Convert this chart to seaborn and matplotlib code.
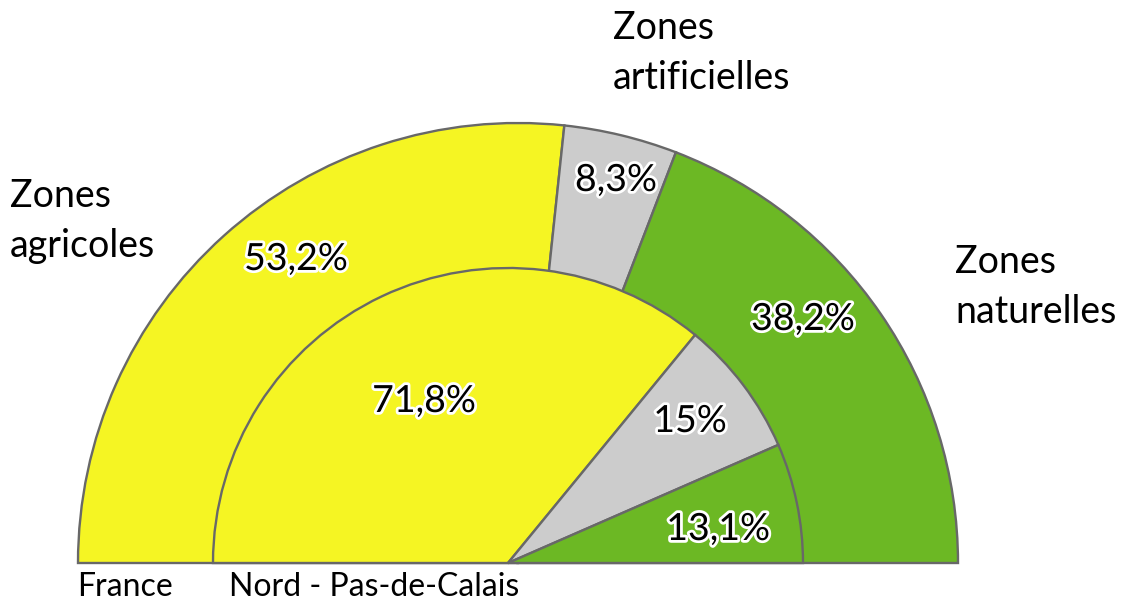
import matplotlib.pyplot as plt
import matplotlib.patheffects as pe
import seaborn as sns

W, H = 1122, 603

# occupation des sols (%)
categories = ['Zones agricoles', 'Zones artificielles', 'Zones naturelles']
france = [53.2, 8.3, 38.2]
npdc = [71.8, 15.0, 13.1]
france_labels = ['53,2%', '8,3%', '38,2%']
npdc_labels = ['71,8%', '15%', '13,1%']
couleurs = ['#F5F523', '#CCCCCC', '#6CB824']

sns.set_theme(style='white')
plt.rcParams['font.family'] = ['Lato', 'DejaVu Sans']

fig = plt.figure(figsize=(W / 100, H / 100), dpi=100)
ax = fig.add_axes([0, 0, 1, 1])

def py(y):
    # pixel (depuis le haut) -> coordonnee data
    return H - y

edge = dict(edgecolor='#686868', linewidth=1.7)

# demi-anneau exterieur : France (une part invisible pour faire le demi-cercle)
w_out, _ = ax.pie(france + [sum(france)], colors=couleurs + ['none'],
                  startangle=180, counterclock=False, radius=440,
                  center=(518, py(563)), wedgeprops=edge, frame=True)
w_out[-1].set_visible(False)

# demi-disque interieur : Nord - Pas-de-Calais
w_in, _ = ax.pie(npdc + [sum(npdc)], colors=couleurs + ['none'],
                 startangle=180, counterclock=False, radius=295,
                 center=(508, py(563)), wedgeprops=edge, frame=True)
w_in[-1].set_visible(False)

ax.set_xlim(0, W)
ax.set_ylim(0, H)
ax.set_aspect('auto')
ax.axis('off')

halo = [pe.withStroke(linewidth=4, foreground='white')]
fs = 27

pos_france = [(296, 270), (616, 191), (803, 330)]
pos_npdc = [(424, 412), (690, 432), (718, 540)]
for lab, (x, y) in zip(france_labels, pos_france):
    ax.text(x, py(y), lab, ha='center', va='baseline', fontsize=fs,
            color='black', path_effects=halo)
for lab, (x, y) in zip(npdc_labels, pos_npdc):
    ax.text(x, py(y), lab, ha='center', va='baseline', fontsize=fs,
            color='black', path_effects=halo)

# libelles des zones
zone_pos = [(10, 207), (613, 39), (955, 273)]
for cat, (x, y) in zip(categories, zone_pos):
    mot1, mot2 = cat.split(' ')
    ax.text(x, py(y), mot1, ha='left', va='baseline', fontsize=fs, color='black')
    ax.text(x, py(y + 50), mot2, ha='left', va='baseline', fontsize=fs, color='black')

ax.text(77, py(602), 'France', ha='left', va='bottom', fontsize=23, color='black')
ax.text(229, py(602), 'Nord - Pas-de-Calais', ha='left', va='bottom', fontsize=23,
        color='black')

fig.savefig('out.png', dpi=100, facecolor='white')
